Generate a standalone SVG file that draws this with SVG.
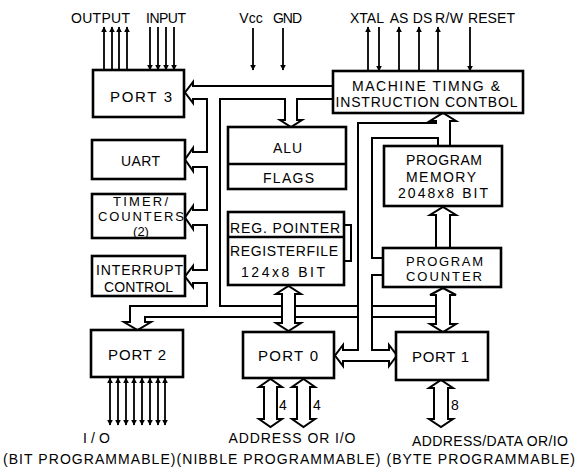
<svg xmlns="http://www.w3.org/2000/svg" width="583" height="471" viewBox="0 0 583 471">
<defs>
<style>
.box{fill:#fff;stroke:#000;stroke-width:2.6}
.ln{fill:none;stroke:#000;stroke-width:2;stroke-linejoin:miter}
.thin{fill:none;stroke:#000;stroke-width:1.8}
.t{font-family:"Liberation Sans",Arial,sans-serif;font-size:14px;fill:#000;text-anchor:middle}
.b{font-size:15px}
.s{font-size:13px}
</style>
<marker id="ah" viewBox="0 0 10 10" refX="9" refY="5" markerWidth="6" markerHeight="8" markerUnits="userSpaceOnUse" orient="auto-start-reverse">
<path d="M0,0 L10,5 L0,10 Z" fill="#000"/>
</marker>
</defs>
<rect width="583" height="471" fill="#fff"/>

<g id="connectors">
<g class="thin">
<line x1="104" y1="70" x2="104" y2="27" marker-end="url(#ah)"/>
<line x1="112" y1="70" x2="112" y2="27" marker-end="url(#ah)"/>
<line x1="119" y1="70" x2="119" y2="27" marker-end="url(#ah)"/>
<line x1="127" y1="70" x2="127" y2="27" marker-end="url(#ah)"/>
<line x1="150" y1="27" x2="150" y2="70" marker-end="url(#ah)"/>
<line x1="158" y1="27" x2="158" y2="70" marker-end="url(#ah)"/>
<line x1="166" y1="27" x2="166" y2="70" marker-end="url(#ah)"/>
<line x1="174" y1="27" x2="174" y2="70" marker-end="url(#ah)"/>
<line x1="253" y1="28" x2="253" y2="70" marker-end="url(#ah)"/>
<line x1="283" y1="28" x2="283" y2="70" marker-end="url(#ah)"/>
<line x1="368" y1="71" x2="368" y2="27" marker-end="url(#ah)"/>
<line x1="379" y1="27" x2="379" y2="71" marker-end="url(#ah)"/>
<line x1="399" y1="71" x2="399" y2="27" marker-end="url(#ah)"/>
<line x1="419" y1="71" x2="419" y2="27" marker-end="url(#ah)"/>
<line x1="438" y1="71" x2="438" y2="27" marker-end="url(#ah)"/>
<line x1="470" y1="27" x2="470" y2="71" marker-end="url(#ah)"/>
</g>
<g class="thin">
<line x1="110" y1="378" x2="110" y2="425" marker-start="url(#ah)" marker-end="url(#ah)"/>
<line x1="118" y1="378" x2="118" y2="425" marker-start="url(#ah)" marker-end="url(#ah)"/>
<line x1="126" y1="378" x2="126" y2="425" marker-start="url(#ah)" marker-end="url(#ah)"/>
<line x1="134" y1="378" x2="134" y2="425" marker-start="url(#ah)" marker-end="url(#ah)"/>
<line x1="142" y1="378" x2="142" y2="425" marker-start="url(#ah)" marker-end="url(#ah)"/>
<line x1="150" y1="378" x2="150" y2="425" marker-start="url(#ah)" marker-end="url(#ah)"/>
<line x1="158" y1="378" x2="158" y2="425" marker-start="url(#ah)" marker-end="url(#ah)"/>
<line x1="165" y1="378" x2="165" y2="425" marker-start="url(#ah)" marker-end="url(#ah)"/>
</g>
<path class="ln" d="M333 86 H193 V82 L185 92.5 L193 103 V99 H207 V152 H193 V148 L185 159.5 L193 171 V167 H207 V210 H193 V206 L185 217.5 L193 229 V225 H207 V270 H193 V266 L185 276.5 L193 287 V283 H207 V306 H130 V322 H124 L137.5 330 L151 322 H145 V317 H282"/>
<path class="ln" d="M333 99 H297 V120 H302 L291 127 L280 120 H285 V99 H220 V306 H282"/>
<path class="ln" d="M282 323 V294 H276 L288.5 286 L301 294 H295 V323 H301 L288.5 331 L276 323 Z"/>
<path class="ln" d="M295 306 H358 M295 317 H358 M372 306 H436 M372 317 H436"/>
<path class="ln" d="M450 146 V121 H456 L443 113 L430 121 H436 V123 H358 V350 H343 V345 L335 355.5 L343 366 V361 H389 V366 L397 355.5 L389 345 V350 H372 V275 H383"/>
<path class="ln" d="M383 258 H372 V138 H438 V146"/>
<path class="ln" d="M436 248 V215 H430 L443 207 L456 215 H450 V248"/>
<path class="ln" d="M436 324 V295 H430 L443 288 L456 295 H450 V324 H456 L443 332 L430 324 Z"/>
<path class="ln" d="M344 225 H351 V261 H344"/>
<path class="ln" d="M264 387 H259 L270.5 379 L282 387 H277 V419 H282 L270.5 427 L259 419 H264 Z"/>
<path class="ln" d="M297 387 H292 L303.5 379 L315 387 H310 V419 H315 L303.5 427 L292 419 H297 Z"/>
<path class="ln" d="M434 388 H429 L441 380 L453 388 H448 V419 H453 L441 427 L429 419 H434 Z"/>
</g>

<g id="port3"><rect class="box" x="93" y="70" width="91" height="47"/><text class="t b" x="141" y="102" textLength="62" lengthAdjust="spacing">PORT 3</text></g>
<g id="uart"><rect class="box" x="92" y="140" width="93" height="39"/><text class="t" x="140.5" y="166" textLength="39" lengthAdjust="spacing">UART</text></g>
<g id="timers"><rect class="box" x="92" y="194" width="93" height="44"/><text class="t s" x="140.5" y="206" textLength="55" lengthAdjust="spacing">TIMER/</text><text class="t s" x="141" y="221" textLength="86" lengthAdjust="spacing">COUNTERS</text><text class="t s" x="141" y="236">(2)</text></g>
<g id="interrupt"><rect class="box" x="92" y="256" width="93" height="40"/><text class="t" x="139.5" y="275" textLength="87" lengthAdjust="spacing">INTERRUPT</text><text class="t" x="138.5" y="292" textLength="69" lengthAdjust="spacing">CONTROL</text></g>
<g id="machine"><rect class="box" x="333" y="71" width="190" height="42"/><text class="t" x="426" y="91" textLength="148" lengthAdjust="spacing">MACHINE TIMNG &amp;</text><text class="t" x="426.5" y="107" textLength="182" lengthAdjust="spacing">INSTRUCTION CONTBOL</text></g>
<g id="alu"><rect class="box" x="228" y="127" width="118" height="62"/><line x1="228" y1="164" x2="346" y2="164" stroke="#000" stroke-width="2.6"/><text class="t" x="287.5" y="153" textLength="29" lengthAdjust="spacing">ALU</text><text class="t" x="288.5" y="183" textLength="51" lengthAdjust="spacing">FLAGS</text></g>
<g id="regfile"><rect class="box" x="228" y="212" width="116" height="73"/><line x1="228" y1="237" x2="344" y2="237" stroke="#000" stroke-width="2.6"/><text class="t" x="285" y="233" textLength="110" lengthAdjust="spacing">REG. POINTER</text><text class="t" x="284" y="256" textLength="108" lengthAdjust="spacing">REGISTERFILE</text><text class="t" x="283" y="277" textLength="84" lengthAdjust="spacing">124x8 BIT</text></g>
<g id="progmem"><rect class="box" x="384" y="146" width="118" height="60"/><text class="t" x="444" y="165" textLength="76" lengthAdjust="spacing">PROGRAM</text><text class="t" x="441" y="182" textLength="70" lengthAdjust="spacing">MEMORY</text><text class="t" x="443" y="198" textLength="90" lengthAdjust="spacing">2048x8 BIT</text></g>
<g id="progcounter"><rect class="box" x="383" y="248" width="118" height="39"/><text class="t s" x="444.5" y="266" textLength="77" lengthAdjust="spacing">PROGRAM</text><text class="t s" x="444" y="281" textLength="76" lengthAdjust="spacing">COUNTER</text></g>
<g id="port2"><rect class="box" x="91" y="330" width="92" height="47"/><text class="t b" x="137" y="360" textLength="58" lengthAdjust="spacing">PORT 2</text></g>
<g id="port0"><rect class="box" x="243" y="332" width="91" height="46"/><text class="t b" x="288" y="361" textLength="60" lengthAdjust="spacing">PORT 0</text></g>
<g id="port1"><rect class="box" x="396" y="332" width="92" height="48"/><text class="t b" x="440.5" y="362" textLength="57" lengthAdjust="spacing">PORT 1</text></g>

<g id="labels">
<text class="t" x="100.5" y="23" textLength="59" lengthAdjust="spacing">OUTPUT</text>
<text class="t" x="166" y="23" textLength="40" lengthAdjust="spacing">INPUT</text>
<text class="t" x="251" y="23">Vcc</text>
<text class="t" x="287.5" y="23" textLength="29" lengthAdjust="spacing">GND</text>
<text class="t" x="367" y="23">XTAL</text>
<text class="t" x="399" y="23">AS</text>
<text class="t" x="422.5" y="23">DS</text>
<text class="t" x="449" y="23" textLength="28" lengthAdjust="spacing">R/W</text>
<text class="t" x="491.5" y="23" textLength="47" lengthAdjust="spacing">RESET</text>
<text class="t" x="283" y="410">4</text>
<text class="t" x="317" y="410">4</text>
<text class="t" x="455" y="410">8</text>
<text class="t" x="96.5" y="443" textLength="27" lengthAdjust="spacing">I/O</text>
<text class="t" x="292" y="443" textLength="127" lengthAdjust="spacing">ADDRESS OR I/O</text>
<text class="t" x="490" y="446" textLength="156" lengthAdjust="spacing">ADDRESS/DATA OR/IO</text>
<text class="t" x="289" y="464" textLength="572" lengthAdjust="spacing">(BIT PROGRAMMABLE)(NIBBLE PROGRAMMABLE) (BYTE PROGRAMMABLE)</text>
</g>
</svg>
